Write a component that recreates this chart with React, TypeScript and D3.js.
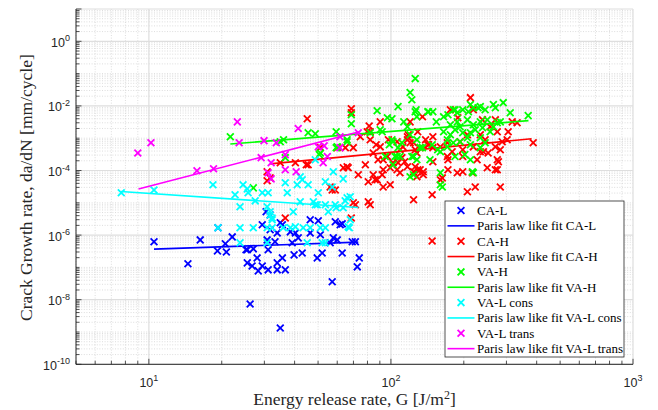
import * as d3 from 'd3'

type Pt = [number, number]

// [G (J/m^2), da/dN (mm/cycle)]
const caL: Pt[] = [
  [10.5, 6.2e-7], [16.3, 7.1e-7], [14.5, 1.29e-7], [19.2, 3.25e-7], [20.7, 5.4e-7], [22.1, 8.8e-7],
  [20.9, 3.0e-7], [19.3, 1.68e-6], [25.5, 3.5e-7], [27.0, 3.75e-7], [28.0, 1.97e-7], [25.5, 1.38e-7],
  [26.7, 1.11e-7], [28.3, 7.8e-8], [29.4, 1.11e-7], [31.1, 8.4e-8], [33.9, 8.4e-8], [36.6, 8.4e-8],
  [35.6, 1.97e-7], [33.9, 1.38e-7], [31.1, 3.5e-7], [33.2, 6.2e-7], [30.8, 7.1e-7], [31.7, 1.46e-6],
  [30.5, 5.3e-6], [31.7, 4.2e-6], [29.4, 2.08e-6], [35.6, 2.08e-6], [33.9, 1.17e-6], [34.9, 2.4e-6],
  [38.4, 1.26e-6], [39.8, 2.44e-7], [43.0, 2.8e-7], [39.1, 5.8e-7], [41.4, 8.2e-7], [40.3, 1.17e-6],
  [46.4, 3.0e-6], [50.1, 2.77e-6], [46.4, 1.17e-6], [51.1, 1.02e-6], [49.6, 1.97e-7], [52.0, 2.8e-7],
  [58.9, 2.58e-6], [61.7, 2.08e-6], [62.9, 2.23e-6], [56.1, 5.8e-7], [60.0, 7.1e-7], [62.9, 2.8e-7],
  [69.2, 6.2e-7], [71.3, 6.2e-7], [74.0, 1.97e-7], [72.6, 1.04e-7], [57.2, 3.6e-8], [26.2, 7.4e-9],
  [34.9, 1.33e-9], [57.8, 8.2e-7], [25.2, 3.5e-7]
]
const caLFit: Pt[] = [[10.5, 3.67e-7], [73.3, 6.05e-7]]

const caH: Pt[] = [
  [30.8, 9.1e-5], [30.8, 4.8e-5], [31.7, 5.9e-5], [34.9, 1.74e-4], [36.6, 3.4e-6], [40.3, 1.74e-4],
  [45.5, 1.5e-4], [45.1, 4.0e-3], [51.1, 5.1e-4], [56.1, 3.1e-5], [58.9, 2.5e-5], [63.6, 1.21e-4],
  [66.6, 1.21e-4], [69.9, 5.1e-4], [78.4, 1.5e-4], [80.6, 4.5e-5], [80.6, 1.07e-5], [71.3, 8.7e-6],
  [68.6, 3.4e-6], [69.9, 1.0e-5], [68.6, 8.2e-3], [68.6, 6.1e-3], [81.3, 2.4e-3], [90.3, 3.2e-3],
  [74.7, 1.11e-3], [82.1, 1.58e-3], [60.0, 5.1e-4], [64.8, 5.1e-4], [65.9, 1.3e-4], [73.3, 7.4e-5],
  [86.9, 6.3e-4], [90.3, 5.4e-4], [97.6, 9.0e-4], [87.7, 5.2e-5], [84.5, 7.4e-5], [92.9, 3.1e-5],
  [99.3, 3.6e-5], [92.0, 7.4e-5], [92.9, 2.15e-4], [102, 1.74e-4], [99.3, 1.21e-4], [107, 1.74e-4],
  [111, 2.5e-4], [114, 1.87e-4], [109, 4.4e-4], [106, 7.8e-4], [117, 9.0e-4], [120, 7.2e-4],
  [126, 4.4e-4], [132, 5.1e-4], [126, 1.3e-4], [129, 1.05e-4], [136, 9.1e-5], [128, 6.4e-5],
  [106, 1.05e-4], [109, 8.5e-5], [124, 9.1e-5], [120, 3.2e-3], [135, 4.6e-3], [118, 1.28e-3],
  [129, 1.58e-3], [139, 9.0e-4], [143, 6.3e-4], [149, 5.1e-4], [160, 5.4e-4], [171, 2.7e-4],
  [172, 2.15e-4], [160, 5.2e-5], [148, 1.77e-5], [124, 1.24e-5], [82.1, 8.7e-6], [57.2, 2.5e-5],
  [188, 8.5e-5], [198, 9.1e-5], [207, 2.2e-5], [223, 3.1e-5], [213, 1.8e-2], [176, 7.6e-3],
  [189, 4.3e-3], [219, 7.6e-3], [239, 3.7e-3], [193, 7.8e-4], [207, 1.28e-3], [219, 5.4e-4],
  [234, 1.28e-3], [245, 9.0e-4], [234, 3.8e-4], [252, 3.5e-4], [270, 5.4e-4], [275, 2.15e-4],
  [283, 4.4e-4], [250, 1.21e-4], [275, 1.05e-4], [283, 3.1e-5], [198, 2.7e-4], [179, 3.8e-4],
  [302, 9.0e-4], [305, 1.58e-3], [332, 3.0e-3], [317, 3.2e-3], [387, 7.2e-4], [288, 7.8e-4],
  [257, 2.26e-3], [270, 3.7e-3], [275, 1.58e-3], [278, 1.87e-4], [270, 1.05e-4], [172, 1.05e-4],
  [132, 1.05e-4], [136, 7.4e-5], [117, 1.3e-4], [149, 1.87e-4], [163, 5.9e-5], [241, 3.8e-4],
  [198, 4.4e-4], [171, 7.2e-4], [149, 1.11e-3], [142, 6.3e-4], [124, 7.2e-4], [117, 1.11e-3],
  [128, 3.5e-4], [112, 5.4e-4], [79.8, 1.58e-3], [82.1, 9.0e-4], [84.5, 3.5e-4], [44.7, 1.5e-4],
  [96.7, 2.7e-4], [88.5, 2.15e-4], [92.9, 1.05e-4], [86.1, 5.2e-5], [148, 6.6e-7], [217, 8.5e-5],
  [227, 2.15e-4]
]
const caHFit: Pt[] = [[31.7, 1.6e-4], [381, 9.6e-4]]

const vaH: Pt[] = [
  [21.7, 1.11e-3], [27.0, 2.9e-5], [34.9, 7.8e-4], [36.6, 2.5e-4], [50.6, 3.1e-4], [51.1, 3.5e-4],
  [60.0, 5.4e-4], [65.9, 7.8e-4], [45.5, 1.48e-3], [48.7, 1.38e-3], [59.4, 1.58e-3], [65.9, 9.0e-4],
  [68.6, 5.3e-3], [68.6, 2.8e-3], [59.4, 5.1e-4], [87.7, 7.1e-3], [96.7, 4.3e-3], [101, 4.0e-3],
  [107, 9.5e-3], [113, 3.2e-3], [117, 2.26e-3], [120, 2.6e-2], [122, 1.56e-2], [126, 7.0e-2],
  [126, 6.6e-3], [128, 4.6e-3], [142, 6.6e-3], [149, 6.6e-3], [154, 3.2e-3], [165, 4.6e-3],
  [82.1, 1.48e-3], [92.0, 1.58e-3], [101, 9.0e-4], [107, 5.1e-4], [111, 7.2e-4], [120, 1.28e-3],
  [128, 9.0e-4], [135, 5.1e-4], [124, 2.7e-4], [128, 2.15e-4], [120, 6.4e-5], [160, 3.6e-5],
  [160, 8.5e-5], [156, 4.4e-4], [106, 2.7e-4], [102, 1.5e-4], [94.7, 2.7e-4], [127, 7.6e-3],
  [90.3, 1.83e-3], [172, 5.3e-3], [181, 7.6e-3], [188, 6.1e-3], [198, 7.6e-3], [209, 6.6e-3],
  [219, 8.8e-3], [234, 9.5e-3], [245, 7.6e-3], [265, 1.1e-2], [270, 8.8e-3], [291, 1.26e-2],
  [311, 6.1e-3], [369, 5.0e-3], [176, 2.6e-3], [188, 3.2e-3], [193, 2.26e-3], [207, 3.7e-3],
  [219, 2.6e-3], [234, 3.2e-3], [250, 3.7e-3], [283, 3.2e-3], [265, 2.26e-3], [165, 1.58e-3],
  [176, 1.28e-3], [184, 1.83e-3], [198, 1.48e-3], [213, 1.48e-3], [223, 1.83e-3], [239, 2.1e-3],
  [257, 1.58e-3], [171, 9.0e-4], [181, 7.2e-4], [193, 7.8e-4], [207, 1.03e-3], [213, 6.3e-4],
  [234, 1.03e-3], [245, 7.2e-4], [171, 5.4e-4], [160, 3.8e-4], [148, 6.3e-4], [132, 5.1e-4],
  [122, 2.7e-4], [109, 2.7e-4], [145, 2.15e-4], [184, 2.7e-4], [202, 3.1e-4], [213, 2.15e-4],
  [219, 8.5e-5], [163, 3.1e-5], [104, 2.7e-4], [98.5, 6.3e-4], [102, 7.8e-4], [143, 6.6e-3],
  [124, 7.4e-5], [217, 9.1e-5], [234, 5.1e-4], [275, 3.0e-3], [229, 8.8e-3], [213, 1.1e-2],
  [184, 7.6e-3], [36.0, 9.0e-4]
]
const vaHFit: Pt[] = [[21.7, 6.6e-4], [370, 3.5e-3]]

const vaLCons: Pt[] = [
  [7.69, 2.04e-5], [10.5, 2.5e-5], [18.4, 3.6e-5], [19.3, 1.68e-6], [22.7, 1.77e-5], [23.8, 7.5e-6],
  [24.5, 3.6e-5], [25.5, 2.7e-5], [25.7, 2.04e-5], [27.5, 1.15e-5], [29.4, 2.04e-5], [31.1, 2.04e-5],
  [30.8, 7.5e-6], [31.7, 4.2e-6], [32.3, 3.4e-6], [31.7, 5.3e-6], [23.8, 1.68e-6], [27.0, 1.68e-6],
  [30.8, 1.68e-6], [32.3, 1.68e-6], [35.9, 1.68e-6], [38.4, 1.68e-6], [40.3, 1.8e-6], [43.4, 1.68e-6],
  [46.4, 1.68e-6], [51.1, 1.68e-6], [53.6, 1.68e-6], [67.3, 1.68e-6], [23.8, 5.8e-7], [30.8, 5.8e-7],
  [45.1, 5.8e-7], [52.0, 5.8e-7], [53.6, 5.8e-7], [32.3, 3.0e-6], [36.6, 4.2e-5], [37.3, 2.04e-5],
  [39.5, 5.3e-6], [41.0, 3.6e-5], [42.2, 6.4e-5], [43.0, 5.2e-5], [45.5, 3.6e-5], [42.2, 1.07e-5],
  [48.7, 2.15e-4], [50.1, 2.04e-5], [53.6, 4.5e-5], [57.8, 9.1e-5], [63.5, 5.5e-5], [47.8, 1.07e-5],
  [49.6, 8.7e-6], [53.6, 8.7e-6], [55.1, 5.3e-6], [58.9, 8.7e-6], [59.4, 7.0e-6], [63.5, 7.0e-6],
  [65.9, 1.43e-5], [67.9, 1.53e-5], [64.7, 1.15e-5], [66.6, 1.8e-6], [67.9, 3.0e-6], [57.2, 3.1e-5],
  [48.7, 8.7e-6]
]
const vaLConsFit: Pt[] = [[7.66, 2.24e-5], [73.3, 7.15e-6]]

const vaLTrans: Pt[] = [
  [9.0, 3.5e-4], [10.2, 7.2e-4], [23.2, 3.2e-3], [23.6, 7.2e-4], [29.9, 8.4e-4], [33.6, 7.2e-4],
  [15.8, 9.8e-5], [18.5, 1.13e-4], [29.1, 2.5e-4], [32.0, 1.74e-4], [31.1, 8.5e-5], [32.0, 5.5e-5],
  [36.6, 3.1e-4], [36.6, 1.05e-4], [40.6, 9.1e-5], [41.4, 2.0e-3], [50.1, 5.4e-4], [53.0, 5.8e-4],
  [52.5, 1.74e-4], [54.6, 2.7e-4], [61.6, 5.1e-4], [61.6, 1.11e-3], [73.3, 1.48e-3]
]
const vaLTransFit: Pt[] = [[9.06, 2.66e-5], [74.7, 1.62e-3]]

const series = [
  { name: 'CA-L', color: '#0000ff', pts: caL, fit: caLFit },
  { name: 'CA-H', color: '#ff0000', pts: caH, fit: caHFit },
  { name: 'VA-H', color: '#00ff00', pts: vaH, fit: vaHFit },
  { name: 'VA-L cons', color: '#00ffff', pts: vaLCons, fit: vaLConsFit },
  { name: 'VA-L trans', color: '#ff00ff', pts: vaLTrans, fit: vaLTransFit }
]

const xTickExp = [1, 2, 3]
const yTickExp = [0, -2, -4, -6, -8, -10]

const W = 658, H = 410
const L = 76, R = 633, T = 9, B = 364.3
const AX = '#262626'
const SANS = '"Liberation Sans", Arial, sans-serif'
const SERIF = '"Liberation Serif", "Times New Roman", serif'

export default function App() {
  const x = d3.scaleLog().domain([5, 1000]).range([L, R])
  const y = d3.scaleLog().domain([1e-10, 10]).range([B, T])

  // minor/major grid values
  const xMinor: number[] = []
  for (let d = 0; d <= 2; d++) for (let k = 2; k <= 9; k++) {
    const v = k * Math.pow(10, d)
    if (v >= 5 && v < 1000) xMinor.push(v)
  }
  const xMajor = [10, 100, 1000]
  const yMinor: number[] = []
  const yMajor: number[] = []
  for (let d = -10; d <= 0; d++) {
    if (d % 2 === 0) yMajor.push(Math.pow(10, d))
    else yMinor.push(Math.pow(10, d))
    for (let k = 2; k <= 9; k++) yMinor.push(k * Math.pow(10, d))
  }
  yMajor.push(10)

  const line = d3.line<Pt>().x(d => x(d[0])).y(d => y(d[1]))
  const cross = (cx: number, cy: number, c: string, key: string | number) => (
    <path key={key} d={`M${cx - 3.4},${cy - 3.4}L${cx + 3.4},${cy + 3.4}M${cx - 3.4},${cy + 3.4}L${cx + 3.4},${cy - 3.4}`}
      stroke={c} strokeWidth={1.8} fill="none" />
  )

  const legX = 445, legY = 201, legW = 179, legH = 156
  const rowH = 15.35
  const legItems: { label: string, color: string, kind: 'm' | 'l' }[] = []
  series.forEach(s => {
    legItems.push({ label: s.name, color: s.color, kind: 'm' })
    legItems.push({ label: 'Paris law like fit ' + s.name, color: s.color, kind: 'l' })
  })

  return (
    <svg width={W} height={H} style={{ position: 'absolute', left: 0, top: 0, background: '#fff' }}
      fontFamily={SANS}>
      <rect x={0} y={0} width={W} height={H} fill="#fff" />
      {/* grid */}
      <g>
        {xMinor.map((v, i) => <line key={'xm' + i} x1={x(v)} x2={x(v)} y1={T} y2={B}
          stroke="#cfcfcf" strokeWidth={0.7} strokeDasharray="1,1.6" />)}
        {yMinor.map((v, i) => <line key={'ym' + i} x1={L} x2={R} y1={y(v)} y2={y(v)}
          stroke="#cfcfcf" strokeWidth={0.7} strokeDasharray="1,1.6" />)}
        {xMajor.map((v, i) => <line key={'xM' + i} x1={x(v)} x2={x(v)} y1={T} y2={B}
          stroke="#dedede" strokeWidth={1.2} />)}
        {yMajor.map((v, i) => <line key={'yM' + i} x1={L} x2={R} y1={y(v)} y2={y(v)}
          stroke="#dedede" strokeWidth={1.2} />)}
      </g>
      {/* data */}
      {series.map(s => (
        <g key={s.name}>
          {s.pts.map((p, i) => cross(x(p[0]), y(p[1]), s.color, i))}
          <path d={line(s.fit) || ''} stroke={s.color} strokeWidth={1.6} fill="none" />
        </g>
      ))}
      {/* axes */}
      <line x1={L} x2={L} y1={T} y2={B} stroke={AX} strokeWidth={1} />
      <line x1={L} x2={R} y1={B} y2={B} stroke={AX} strokeWidth={1} />
      {xMinor.map((v, i) => <line key={'xt' + i} x1={x(v)} x2={x(v)} y1={B} y2={B - 3.5} stroke={AX} strokeWidth={0.8} />)}
      {xMajor.map((v, i) => <line key={'xT' + i} x1={x(v)} x2={x(v)} y1={B} y2={B - 5.5} stroke={AX} strokeWidth={0.8} />)}
      {yMinor.map((v, i) => <line key={'yt' + i} x1={L} x2={L + 3.5} y1={y(v)} y2={y(v)} stroke={AX} strokeWidth={0.8} />)}
      {yMajor.map((v, i) => <line key={'yT' + i} x1={L} x2={L + 5.5} y1={y(v)} y2={y(v)} stroke={AX} strokeWidth={0.8} />)}
      {xTickExp.map(e => (
        <text key={'xl' + e} x={x(Math.pow(10, e))} y={B + 22.5} fontSize={12.5} fill={AX} textAnchor="middle">
          10<tspan dy={-5.5} fontSize={9}>{e}</tspan>
        </text>
      ))}
      {yTickExp.map(e => (
        <text key={'yl' + e} x={L - 6} y={y(Math.pow(10, e)) + 5.5} fontSize={12.5} fill={AX} textAnchor="end">
          10<tspan dy={-5.5} fontSize={9}>{e}</tspan>
        </text>
      ))}
      <text x={(L + R) / 2} y={405} fontFamily={SERIF} fontSize={17.5} fill={AX} textAnchor="middle">
        Energy release rate, G [J/m<tspan dy={-6.5} fontSize={12}>2</tspan><tspan dy={6.5}>]</tspan>
      </text>
      <text transform={`translate(32,${(T + B) / 2 + 1}) rotate(-90)`} fontFamily={SERIF} fontSize={17.5} fill={AX} textAnchor="middle">
        Crack Growth rate, da/dN [mm/cycle]
      </text>
      {/* legend */}
      <g>
        <rect x={legX} y={legY} width={legW} height={legH} fill="#fff" stroke={AX} strokeWidth={0.8} />
        {legItems.map((it, i) => {
          const cy = legY + 9.5 + i * rowH
          return (
            <g key={it.label}>
              {it.kind === 'm'
                ? cross(461, cy, it.color, 'm')
                : <line x1={447.5} x2={474.5} y1={cy} y2={cy} stroke={it.color} strokeWidth={1.6} />}
              <text x={477} y={cy + 4.5} fontFamily={SERIF} fontSize={13} fill="#000">{it.label}</text>
            </g>
          )
        })}
      </g>
    </svg>
  )
}
